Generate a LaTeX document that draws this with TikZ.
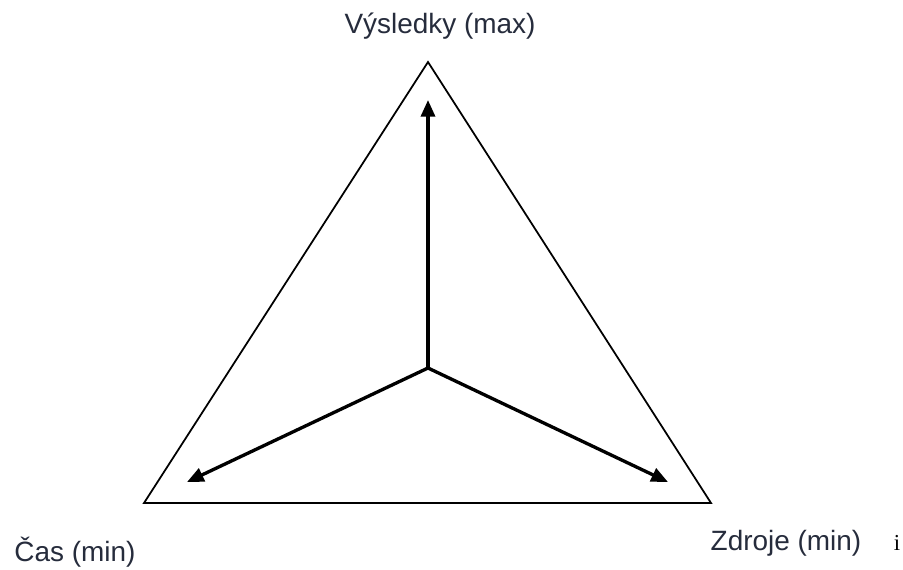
\documentclass[tikz,border=0pt]{standalone}
\usepackage{fontspec}
\setmainfont{Liberation Sans}
\newfontfamily\serifmark{Liberation Serif}
\usetikzlibrary{arrows.meta, calc}
\definecolor{labelnavy}{RGB}{38, 44, 60}

\begin{document}
\begin{tikzpicture}[x=0.02cm, y=-0.02cm,
    edge/.style={draw=black, line width=1pt, line join=miter},
    axis/.style={draw=black, line width=1.9pt,
                 -{Triangle[length=9.5pt, width=8pt]}},
    corner/.style={text=labelnavy, anchor=base, inner sep=0pt,
                   font=\fontsize{15.9}{18}\selectfont}]
    \useasboundingbox (0,0) rectangle (903,569);

    % triangle corners and centre
    \coordinate (top) at (428,62);
    \coordinate (left) at (144,503);
    \coordinate (right) at (711,503);
    \coordinate (mid) at (428,368);

    % arrow ends
    \coordinate (resultEnd) at (428,100);
    \coordinate (timeEnd) at (187,482);
    \coordinate (costEnd) at (668,482);

    \draw[edge] (top) -- (left) -- (right) -- cycle;

    \draw[axis] (mid) -- (resultEnd);
    \draw[axis] (mid) -- (timeEnd);
    \draw[axis] (mid) -- (costEnd);

    \node[corner] (vysledky) at (440,33) {Výsledky (max)};
    \node[corner] (cas) at (75,561) {Čas (min)};
    \node[corner] (zdroje) at (786,550) {Zdroje (min)};
    \node[anchor=base, inner sep=0pt, font=\serifmark\fontsize{13}{15}\selectfont]
        (mark) at (897,550) {i};
\end{tikzpicture}
\end{document}
